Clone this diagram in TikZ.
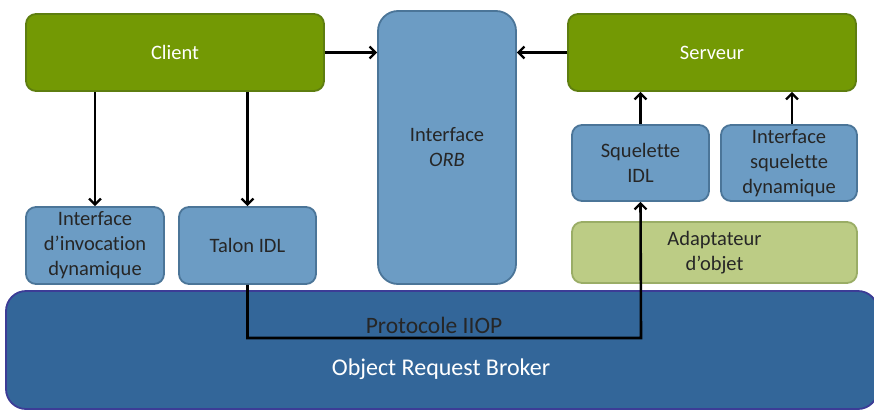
\documentclass[tikz,border=0pt]{standalone}
\usepackage{fontspec}
\setmainfont{Carlito}[Ligatures=NoCommon]
\usetikzlibrary{arrows.meta}
\definecolor{vertfonce}{HTML}{739904}
\definecolor{vertbord}{HTML}{5E7E10}
\definecolor{bleuclair}{HTML}{6C9CC4}
\definecolor{bleubord}{HTML}{4B7598}
\definecolor{bleuorb}{HTML}{336699}
\definecolor{bordorb}{HTML}{3C3C96}
\definecolor{vertclair}{HTML}{BCCC85}
\definecolor{vertclairbord}{HTML}{9AAD66}
\tikzset{
  box/.style={draw,line width=1.8pt,rounded corners=10pt,inner sep=0pt,align=center,
    font=\fontsize{20.5}{25}\selectfont},
  green box/.style={box,fill=vertfonce,draw=vertbord,text=white},
  blue box/.style={box,fill=bleuclair,draw=bleubord,text=black!85},
  link/.style={line width=2.6pt,-{Straight Barb[length=6pt,width=12pt,line width=2.2pt]}}
}
\begin{document}
\begin{tikzpicture}[x=1pt,y=-1pt]
\useasboundingbox (0,0) rectangle (874,410);
% couche du bas
\node[box,fill=bleuorb,draw=bordorb,rounded corners=20pt,minimum width=872pt,minimum height=118pt] (broker) at (442,350) {};
\node[text=white,font=\fontsize{24}{28}\selectfont] (brokertxt) at (441,369) {Object Request Broker};
% client
\node[green box,minimum width=298pt,minimum height=77pt] (client) at (175,52.5) {Client};
\node[blue box,minimum width=138pt,minimum height=77pt] (invoc) at (95,245.5) {Interface\\d’invocation\\dynamique};
\node[blue box,minimum width=137pt,minimum height=77pt] (talon) at (247.5,245.5) {Talon IDL};
% interface ORB
\node[blue box,rounded corners=20pt,minimum width=138pt,minimum height=273pt] (orb) at (447,147.5) {Interface\\\textit{ORB}};
% serveur
\node[green box,minimum width=288pt,minimum height=77pt] (serveur) at (712,52.5) {Serveur};
\node[blue box,minimum width=137pt,minimum height=76pt] (squel) at (640.5,163) {Squelette\\IDL};
\node[blue box,minimum width=136pt,minimum height=76pt] (dyn) at (789,163) {Interface\\squelette\\dynamique};
\node[box,fill=vertclair,draw=vertclairbord,text=black!85,minimum width=285pt,minimum height=61pt] (adapt) at (714.5,252.5) {Adaptateur\\d’objet};
% fleches
\draw[link] (client.east) -- (client.east -| orb.west);
\draw[link] (serveur.west) -- (serveur.west -| orb.east);
\draw[link] (client.south -| invoc.north) -- (invoc.north);
\draw[link] (client.south -| talon.north) -- (talon.north);
\draw[link] (squel.north) -- (squel.north |- serveur.south);
\draw[link] ([xshift=3pt]dyn.north) -- ([xshift=3pt]dyn.north |- serveur.south);
% protocole IIOP
\coordinate (iiop) at (641,338);
\draw[link] (talon.south) |- (iiop) -- (squel.south);
\node[text=black!85,font=\fontsize{23.5}{28}\selectfont] (iioptxt) at (434,325) {Protocole IIOP};
\end{tikzpicture}
\end{document}
